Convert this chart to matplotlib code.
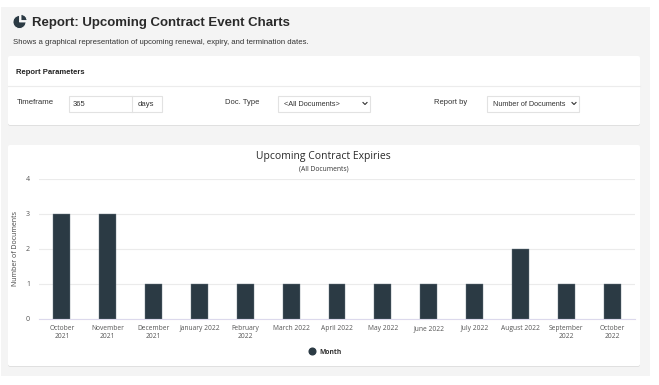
import matplotlib
matplotlib.use('Agg')
import matplotlib.pyplot as plt
from matplotlib.patches import Rectangle, FancyBboxPatch, Wedge

months = ['October\n2021', 'November\n2021', 'December\n2021', 'January 2022',
          'February\n2022', 'March 2022', 'April 2022', 'May 2022', 'June 2022',
          'July 2022', 'August 2022', 'September\n2022', 'October\n2022']
documents = [3, 3, 1, 1, 1, 1, 1, 1, 1, 1, 2, 1, 1]
y_ticks = [0, 1, 2, 3, 4]

W, H = 659, 385
SANS = 'Liberation Sans'
CHART = 'Open Sans'
DARK = '#2b3a44'

fig = plt.figure(figsize=(W / 100, H / 100), dpi=100, facecolor='white')

# page layer in pixel coordinates, y going down
bg = fig.add_axes([0, 0, 1, 1])
bg.set_xlim(0, W)
bg.set_ylim(H, 0)
bg.axis('off')


def box(x0, y0, x1, y1, fc='white', ec='none', lw=0.8):
    bg.add_patch(Rectangle((x0, y0), x1 - x0, y1 - y0, fc=fc, ec=ec, lw=lw))


def panel(x0, y0, x1, y1):
    bg.add_patch(FancyBboxPatch((x0, y0 + 0.8), x1 - x0, y1 - y0, boxstyle='round,pad=0,rounding_size=2',
                                fc='#dcdcdc', ec='none'))
    bg.add_patch(FancyBboxPatch((x0, y0), x1 - x0, y1 - y0, boxstyle='round,pad=0,rounding_size=2',
                                fc='white', ec='none'))


def label(x, y, s, size=6.0, **kw):
    kw.setdefault('color', '#333333')
    kw.setdefault('family', SANS)
    kw.setdefault('va', 'center')
    bg.text(x, y, s, fontsize=size, **kw)


def chevron(x, y):
    bg.plot([x - 2, x, x + 2], [y - 1, y + 1, y - 1], color='#333333', lw=0.8)


box(1, 7, 650, 376, fc='#f4f4f4')
panel(8, 56, 640, 125)
panel(8, 145, 640, 366)

# heading
bg.add_patch(Wedge((19.5, 22), 6.5, 0, 270, fc=DARK, ec='white', lw=0.6))
bg.add_patch(Wedge((21, 20.5), 6, 270, 360, fc=DARK, ec='white', lw=0.6))
label(31.5, 23, 'Report: Upcoming Contract Event Charts', 9.55, weight='bold', color='#2a2a2a')
label(13, 42.5, 'Shows a graphical representation of upcoming renewal, expiry, and termination dates.', 5.55)

# parameters panel
label(16.5, 72, 'Report Parameters', 5.5, weight='bold', color='#222222')
bg.plot([8, 640], [85.5, 85.5], color='#ececec', lw=0.8)
label(16.5, 102, 'Timeframe', 5.6)
box(68.5, 95.5, 161.5, 111.5, ec='#e2e2e2')
bg.plot([131.5, 131.5], [95.5, 111.5], color='#e2e2e2', lw=0.8)
label(73, 104.5, '365', 5.5)
label(138, 104.5, 'days', 5.6)
label(225, 102, 'Doc. Type', 5.5)
box(277.5, 95.5, 370, 111.5, ec='#e2e2e2')
label(284, 104.5, '<All Documents>', 5.3)
chevron(365, 103.5)
label(434, 102, 'Report by', 5.5)
box(486.5, 95.5, 579, 111.5, ec='#e2e2e2')
label(493, 104.5, 'Number of Documents', 5.2)
chevron(574, 103.5)

# chart titles
label(323.5, 157, 'Upcoming Contract Expiries', 7.5, family=CHART, ha='center', color='#2a2a2a')
label(323.5, 169, '(All Documents)', 4.9, family=CHART, ha='center')

# bar chart
x0, x1, y_top, y_bot = 39, 635, 178.5, 318.5
ax = fig.add_axes([x0 / W, 1 - y_bot / H, (x1 - x0) / W, (y_bot - y_top) / H])
ax.patch.set_alpha(0)
positions = list(range(len(months)))
ax.bar(positions, documents, width=0.37, color=DARK, edgecolor='#6d7b85', linewidth=0.3, zorder=3)
ax.set_xlim(-0.5, len(months) - 0.5)
ax.set_ylim(0, 4)
ax.set_yticks(y_ticks)
ax.set_xticks(positions)
ax.set_xticklabels(months, fontsize=4.8, family=CHART, color='#555555', linespacing=1.25)
ax.tick_params(axis='both', length=0)
ax.tick_params(axis='x', pad=4.5)
ax.tick_params(axis='y', labelsize=5.0, labelcolor='#555555', pad=6.5)
for t in ax.get_yticklabels():
    t.set_family(CHART)
ax.grid(axis='y', color='#ebebeb', lw=0.8, zorder=0)
for s in ['top', 'right', 'left']:
    ax.spines[s].set_visible(False)
ax.spines['bottom'].set_color('#dcd9ec')
ax.spines['bottom'].set_linewidth(0.8)
ax.set_ylabel('Number of Documents', fontsize=5.0, family=CHART, color='#444444', labelpad=0)
ax.yaxis.set_label_coords((19 - x0) / (x1 - x0), 0.5)

# legend
bg.plot([311.5], [351], 'o', color=DARK, ms=4.8)
label(319, 352, 'Month', 4.9, family=CHART, weight='bold', color='#333333')

fig.savefig('out.png', dpi=100)
